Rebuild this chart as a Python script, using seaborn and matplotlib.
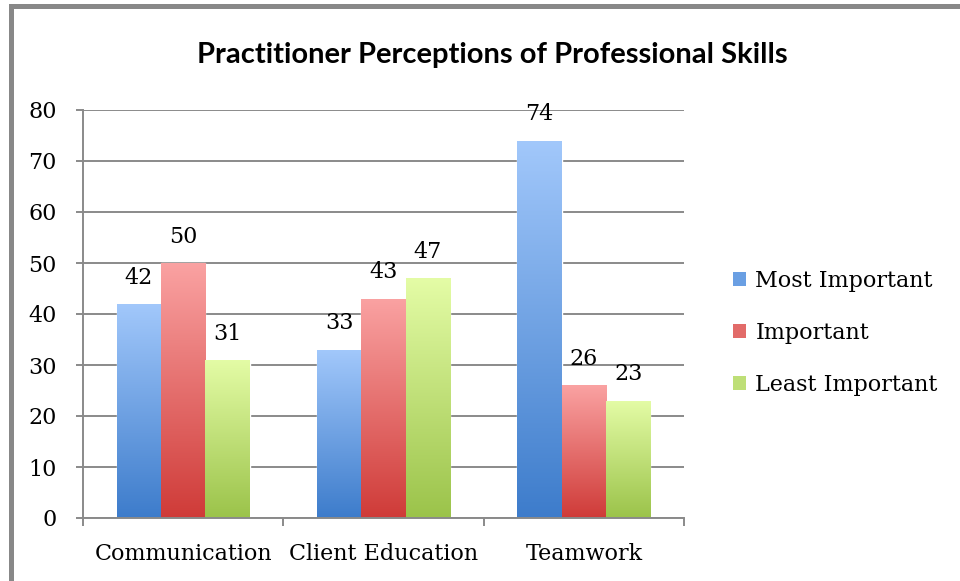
import numpy as np
import pandas as pd
import seaborn as sns
import matplotlib.pyplot as plt
from matplotlib.colors import LinearSegmentedColormap
from matplotlib.patches import Rectangle, Patch

sns.set_style("white")
plt.rcParams['font.family'] = ['DejaVu Serif']
plt.rcParams['text.color'] = 'black'
plt.rcParams['xtick.color'] = 'black'
plt.rcParams['ytick.color'] = 'black'

# data
skills = ["Communication", "Client Education", "Teamwork"]
levels = ["Most Important", "Important", "Least Important"]
most_important = [42, 33, 74]
important = [50, 43, 26]
least_important = [31, 47, 23]

# gradient colours per series (bottom, top)
grads = [("#3D7CCB", "#A2C8FB"), ("#CF3B38", "#FAA2A2"), ("#9BC34A", "#E4FCA6")]
mids = ["#6A9FE3", "#E26B69", "#BEDF77"]

df = pd.DataFrame({
    "skill": skills * 3,
    "level": [levels[0]] * 3 + [levels[1]] * 3 + [levels[2]] * 3,
    "count": most_important + important + least_important,
})

fig = plt.figure(figsize=(9.6, 5.81), dpi=100)
ax = fig.add_axes([83 / 960, 63 / 581, 601 / 960, 408 / 581])

sns.barplot(data=df, x="skill", y="count", hue="level", hue_order=levels,
            order=skills, palette=mids, width=0.665, saturation=1,
            legend=False, ax=ax)

grad = np.linspace(0, 1, 256).reshape(-1, 1)
for container, (bot, top) in zip(ax.containers, grads):
    cmap = LinearSegmentedColormap.from_list("g", [bot, top])
    for bar in container:
        x0, y0 = bar.get_x(), bar.get_y()
        w, h = bar.get_width(), bar.get_height()
        im = ax.imshow(grad, extent=[x0, x0 + w, y0, y0 + h], origin="lower",
                       cmap=cmap, aspect="auto", zorder=2)
        im.set_clip_path(bar)
        bar.set_facecolor("none")
    ax.bar_label(container, padding=11, fontsize=16, color="black")

ax.set_xlim(-0.5, 2.5)
ax.set_ylim(0, 80)
ax.set_yticks(range(0, 81, 10))
ax.set_axisbelow(True)
ax.grid(axis="y", color="#8a8a8a", lw=1.4)
ax.grid(axis="x", visible=False)

for s in ["top", "right"]:
    ax.spines[s].set_visible(False)
for s in ["left", "bottom"]:
    ax.spines[s].set_color("#8a8a8a")
    ax.spines[s].set_linewidth(1.4)

ax.set_xlabel("")
ax.set_ylabel("")
ax.tick_params(axis="y", length=5, width=1.4, color="#8a8a8a", pad=14,
               labelsize=16, left=True, labelcolor="black")
ax.tick_params(axis="x", which="major", length=0, pad=18, labelsize=16,
               labelcolor="black")
ax.set_xticks([-0.5, 0.5, 1.5, 2.5], minor=True)
ax.tick_params(axis="x", which="minor", length=6, width=1.4, color="#8a8a8a",
               bottom=True)

fig.text(492 / 960, 1 - 55 / 581, "Practitioner Perceptions of Professional Skills",
         ha="center", va="center", fontsize=21, fontweight="bold", family="Lato",
         color="black")

handles = [Patch(facecolor=c, edgecolor="none") for c in mids]
fig.legend(handles, levels, loc="center left", bbox_to_anchor=(0.752, 1 - 333 / 581),
           frameon=False, fontsize=16, handlelength=0.6, handleheight=0.6,
           handletextpad=0.4, labelspacing=1.35, borderpad=0)

# frame on top and left edges of the crop
fig.add_artist(Rectangle((9 / 960, 0), 5 / 960, 1 - 4 / 581, transform=fig.transFigure,
                         facecolor="#888888", edgecolor="none"))
fig.add_artist(Rectangle((9 / 960, 1 - 9 / 581), 1 - 9 / 960, 5 / 581,
                         transform=fig.transFigure, facecolor="#888888", edgecolor="none"))

fig.savefig("out.png", dpi=100)
